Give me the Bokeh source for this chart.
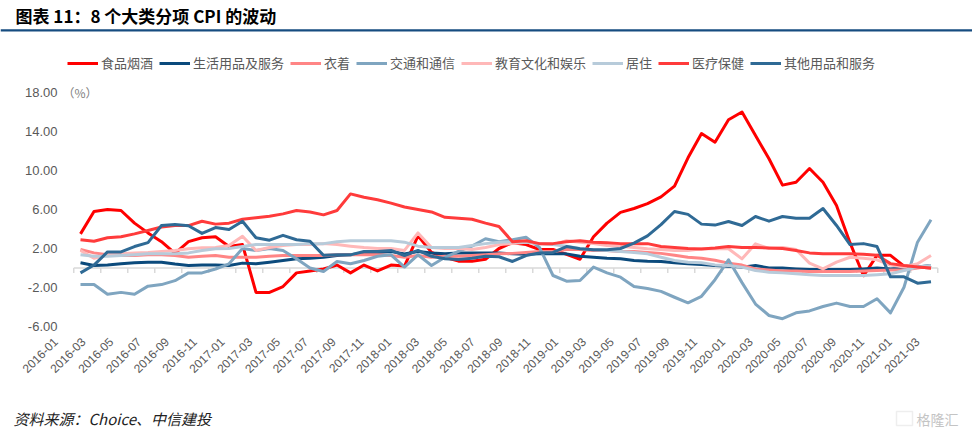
import math
from bokeh.plotting import figure
from bokeh.models import (Legend, LegendItem, Label, FixedTicker, Range1d, LinearAxis,
                          BoxAnnotation, ColumnDataSource)
from bokeh.embed import file_html
from bokeh.resources import INLINE

# ---------------- data ----------------
months = [f"{y}-{m:02d}" for y in range(2016, 2022) for m in range(1, 13)][:64]
x_idx = list(range(len(months)))

food = [3.5, 5.8, 6.0, 5.9, 4.6, 3.6, 2.7, 1.5, 2.7, 3.1, 3.2, 2.2,
        2.4, -2.5, -2.5, -1.9, -0.5, -0.3, -0.1, 0.3, -0.5, 0.3, -0.3, 0.3,
        0.2, 3.3, 1.6, 1.1, 0.7, 0.7, 0.9, 2.0, 2.6, 2.4, 1.9, 1.9,
        1.4, 0.9, 3.2, 4.6, 5.7, 6.1, 6.6, 7.3, 8.4, 11.3, 13.8, 12.9,
        15.2, 16.0, 13.6, 11.2, 8.5, 8.8, 10.2, 8.8, 6.4, 2.6, -0.8, 1.3,
        1.3, 0.2, 0.1, 0.0]
household = [0.53, 0.26, 0.32, 0.43, 0.53, 0.6, 0.6, 0.4, 0.26, 0.32, 0.32, 0.26,
             0.5, 0.43, 0.6, 0.77, 0.94, 1.0, 1.1, 1.28, 1.35, 1.55, 1.6, 1.7,
             1.45, 1.7, 1.55, 1.45, 1.55, 1.55, 1.55, 1.55, 1.45, 1.4, 1.45, 1.45,
             1.45, 1.2, 1.1, 1.0, 0.94, 0.77, 0.7, 0.67, 0.53, 0.43, 0.36, 0.26,
             0.19, 0.09, 0.26, 0.0, 0.0, -0.09, -0.15, -0.15, -0.15, -0.15, -0.09, 0.0,
             -0.1, 0.0, 0.1, 0.26]
clothing = [1.9, 1.55, 1.35, 1.28, 1.28, 1.35, 1.35, 1.28, 1.1, 1.2, 1.28, 1.1,
            1.1, 1.1, 1.2, 1.28, 1.28, 1.28, 1.28, 1.35, 1.35, 1.35, 1.35, 1.28,
            1.1, 1.28, 1.1, 1.2, 1.2, 1.28, 1.35, 1.45, 1.5, 1.6, 1.7, 1.7,
            1.9, 1.9, 1.8, 1.8, 1.7, 1.7, 1.6, 1.5, 1.3, 1.1, 1.0, 0.8,
            0.5, 0.3, -0.1, -0.2, -0.3, -0.3, -0.35, -0.35, -0.35, -0.35, -0.3, -0.25,
            -0.2, -0.2, 0.0, 0.2]
transport = [-1.7, -1.7, -2.7, -2.5, -2.7, -1.86, -1.7, -1.3, -0.5, -0.5, -0.1, 0.43,
             2.0, 1.8, 2.0, 1.8, 0.94, 0.0, -0.36, 0.67, 0.43, 0.77, 1.2, 1.35,
             0.1, 1.35, 0.26, 1.1, 1.7, 2.24, 3.0, 2.7, 2.9, 3.16, 2.1, -0.77,
             -1.35, -1.28, 0.09, -0.5, -0.94, -1.9, -2.1, -2.4, -3.0, -3.57, -2.9, -1.2,
             0.84, -1.5, -3.7, -4.87, -5.2, -4.6, -4.4, -3.95, -3.6, -3.95, -3.95, -3.16,
             -4.6, -1.97, 2.65, 4.94]
education = [1.8, 1.0, 1.35, 1.45, 1.55, 1.6, 1.7, 1.8, 1.97, 2.07, 2.1, 2.3,
             3.26, 1.8, 2.1, 2.3, 2.4, 2.4, 2.5, 2.4, 2.24, 2.1, 2.0, 2.0,
             1.8, 3.6, 2.1, 2.0, 2.0, 1.9, 2.1, 2.4, 2.5, 2.65, 2.5, 2.4,
             2.8, 2.65, 2.5, 2.3, 2.24, 2.1, 1.97, 1.9, 1.8, 1.8, 1.97, 2.0,
             1.97, 0.94, 2.48, 2.0, 2.1, 1.9, 0.5, -0.09, 0.6, 1.1, 1.0, 0.84,
             0.3, 0.1, 0.43, 1.28]
housing = [1.35, 1.2, 1.2, 1.28, 1.35, 1.45, 1.45, 1.45, 1.55, 1.8, 1.97, 2.0,
           2.2, 2.4, 2.4, 2.4, 2.4, 2.5, 2.5, 2.7, 2.8, 2.8, 2.8, 2.8,
           2.65, 2.24, 2.1, 2.1, 2.1, 2.3, 2.5, 2.65, 2.7, 2.65, 2.5, 2.4,
           2.24, 2.0, 1.86, 1.8, 1.7, 1.6, 1.45, 1.1, 0.77, 0.6, 0.53, 0.32,
           0.26, 0.09, -0.26, -0.43, -0.5, -0.6, -0.7, -0.77, -0.77, -0.77, -0.77, -0.7,
           -0.6, -0.26, 0.1, 0.26]
medical = [2.9, 2.75, 3.1, 3.2, 3.5, 3.85, 4.2, 4.35, 4.35, 4.8, 4.5, 4.6,
           5.0, 5.15, 5.3, 5.55, 5.9, 5.75, 5.45, 5.9, 7.6, 7.25, 7.0, 6.65,
           6.25, 6.0, 5.75, 5.2, 5.1, 5.0, 4.6, 4.25, 2.7, 2.8, 2.5, 2.5,
           2.7, 2.8, 2.65, 2.6, 2.5, 2.5, 2.5, 2.2, 2.1, 2.0, 1.95, 2.05,
           2.2, 2.1, 2.1, 2.05, 2.0, 1.8, 1.55, 1.45, 1.45, 1.45, 1.4, 1.3,
           0.45, 0.25, 0.1, 0.0]
other = [-0.5, 0.3, 1.65, 1.65, 2.2, 2.6, 4.36, 4.46, 4.33, 3.55, 4.15, 3.95,
         4.8, 3.1, 2.85, 3.35, 2.9, 2.75, 1.3, 1.35, 1.35, 1.7, 1.7, 1.8,
         1.28, 1.8, 1.2, 0.94, 0.87, 1.0, 1.2, 1.15, 0.67, 1.28, 1.55, 1.6,
         2.2, 1.97, 1.86, 1.86, 2.0, 2.55, 3.3, 4.45, 5.8, 5.5, 4.5, 4.4,
         4.77, 4.36, 5.28, 4.8, 5.28, 5.1, 5.1, 6.1, 4.36, 2.4, 2.5, 2.2,
         -0.9, -0.9, -1.56, -1.4]

series_names = ["食品烟酒", "生活用品及服务", "衣着", "交通和通信",
                "教育文化和娱乐", "居住", "医疗保健", "其他用品和服务"]
series_values = [food, household, clothing, transport, education, housing, medical, other]
series_colors = ["#FF0000", "#0B4A7C", "#FF8585", "#7FA5C0",
                 "#FFB8B8", "#B7CBDA", "#FF3B3B", "#2F6A95"]

y_ticks = [-6, -2, 2, 6, 10, 14, 18]
label_months = months[0:len(months):2]

# ---------------- geometry (page pixels) ----------------
W, H = 972, 434
px_per_month = 13.5          # horizontal size of one category
px_per_unit = 9.75           # vertical size of one percentage point
first_center_px = 80         # page x of the first category
zero_px = 267.5              # page y of the value 0


def px_to_x(px):
    return (px - first_center_px) / px_per_month


def py_to_y(py):
    return (zero_px - py) / px_per_unit


CJK = "Noto Sans CJK SC"
tick_font = "Liberation Sans"

p = figure(width=W, height=H, x_range=Range1d(px_to_x(0), px_to_x(W)),
           y_range=Range1d(py_to_y(H), py_to_y(0)), output_backend="svg",
           toolbar_location=None, min_border=0, x_axis_type=None, y_axis_type=None)
p.outline_line_color = None
p.grid.visible = False

# y axis drawn just left of the category area
yax = LinearAxis(fixed_location=px_to_x(60), ticker=FixedTicker(ticks=y_ticks),
                 major_label_overrides={t: f"{t:.2f}" for t in y_ticks})
yax.axis_line_color = None
yax.major_tick_line_color = None
yax.minor_tick_line_color = None
yax.major_tick_out = 0
yax.major_tick_in = 0
yax.major_label_standoff = 3
yax.major_label_text_font = tick_font
yax.major_label_text_font_size = "13px"
yax.major_label_text_color = "#595959"
p.add_layout(yax, "left")

# rotated month labels below the plotting area (bottom = -6)
label_first = px_to_x(55)
label_step = 27.8 / px_per_month
label_pos = [round(label_first + k * label_step, 3) for k in range(len(label_months))]
xax = LinearAxis(fixed_location=min(y_ticks), ticker=FixedTicker(ticks=label_pos),
                 major_label_overrides={pos: m for pos, m in zip(label_pos, label_months)})
xax.major_label_orientation = math.pi / 4
xax.axis_line_color = None
xax.major_tick_line_color = None
xax.minor_tick_line_color = None
xax.major_tick_out = 0
xax.major_tick_in = 0
xax.major_label_standoff = 13
xax.major_label_text_font = tick_font
xax.major_label_text_font_size = "12px"
xax.major_label_text_color = "#595959"
p.add_layout(xax, "below")

# zero category line with ticks between category pairs
bounds = [i - 0.5 for i in range(0, len(months) + 1, 2)]
tick_len = 0.5
p.segment(x0=[-0.5], y0=[0], x1=[len(months) - 0.5], y1=[0], line_color="#D9D9D9", line_width=1.5)
p.segment(x0=bounds, y0=[0] * len(bounds), x1=bounds, y1=[-tick_len] * len(bounds),
          line_color="#D9D9D9", line_width=1.5)

items = []
for name, vals, col in zip(series_names, series_values, series_colors):
    src = ColumnDataSource(dict(x=x_idx, y=vals))
    r = p.line("x", "y", source=src, line_color=col, line_width=3, line_join="round")
    items.append(LegendItem(label=name, renderers=[r]))

legend = Legend(items=items, orientation="horizontal", location=(67, H - 72),
                glyph_width=31, glyph_height=16, label_standoff=3, spacing=6,
                padding=0, margin=0, border_line_color=None, background_fill_alpha=0,
                label_text_font=CJK, label_text_font_size="13px",
                label_text_color="#595959", label_height=16)
p.add_layout(legend)

# unit next to the top tick label
p.add_layout(Label(x=62, y=H - 92, x_units="screen", y_units="screen",
                   text="（%）", text_font=CJK, text_font_size="12px",
                   text_color="#7F7F7F", text_baseline="middle"))

# title and its rule
p.add_layout(Label(x=15, y=H - 15, x_units="screen", y_units="screen",
                   text="图表 11：8 个大类分项 CPI 的波动", text_font=CJK,
                   text_font_size="17px", text_font_style="bold", text_color="#000000",
                   text_baseline="middle"))
p.add_layout(BoxAnnotation(left=0, right=W, bottom=H - 31, top=H - 28.7,
                           left_units="screen", right_units="screen",
                           bottom_units="screen", top_units="screen",
                           fill_color="#164C80", fill_alpha=1, line_color=None))

# source and watermark
p.add_layout(Label(x=13, y=H - 418, x_units="screen", y_units="screen",
                   text="资料来源：Choice、中信建投", text_font=CJK,
                   text_font_size="15px", text_font_style="italic", text_color="#222222",
                   text_baseline="middle"))
p.add_layout(BoxAnnotation(left=896, right=912, bottom=H - 425, top=H - 411,
                           left_units="screen", right_units="screen",
                           bottom_units="screen", top_units="screen",
                           fill_alpha=0, line_color="#C8C8C8", line_width=1.5))
p.add_layout(Label(x=916, y=H - 418, x_units="screen", y_units="screen",
                   text="格隆汇", text_font=CJK, text_font_size="14px",
                   text_color="#C4C4C4", text_baseline="middle"))

open("out.html", "w").write(file_html(p, INLINE))
